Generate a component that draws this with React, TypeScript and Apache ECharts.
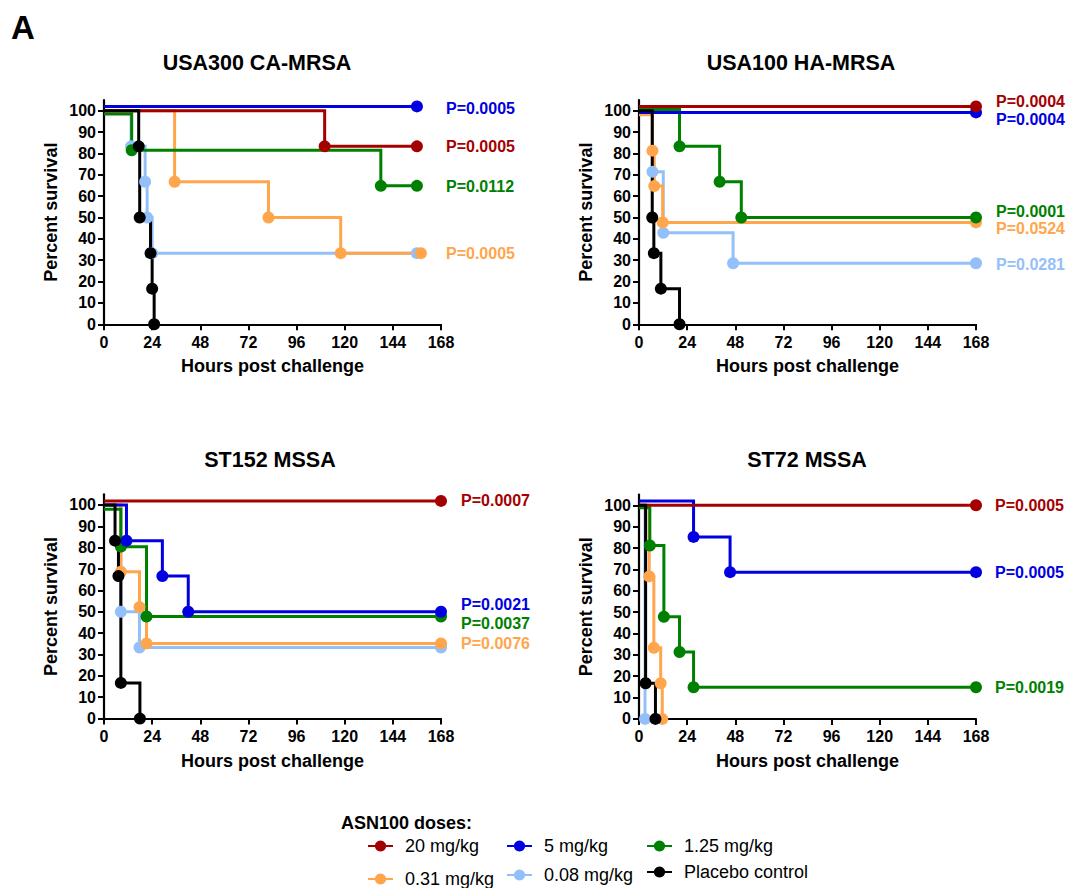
import React, { useEffect, useRef } from "react";
import * as echarts from "echarts";

const FONT = "'Liberation Sans', Arial, Helvetica, sans-serif";

// ---------- labels & ticks ----------
const PANEL_TITLES = ["USA300 CA-MRSA", "USA100 HA-MRSA", "ST152 MSSA", "ST72 MSSA"];
const DOSES = ["20 mg/kg", "5 mg/kg", "1.25 mg/kg", "0.31 mg/kg", "0.08 mg/kg", "Placebo control"];
const DOSE_COLORS = ["#a50000", "#0000e0", "#008000", "#ffa64d", "#94c0fa", "#000000"];
const X_TICKS = [0, 24, 48, 72, 96, 120, 144, 168];
const Y_TICKS = [0, 10, 20, 30, 40, 50, 60, 70, 80, 90, 100];
const X_TITLE = "Hours post challenge";
const Y_TITLE = "Percent survival";
const LEGEND_TITLE = "ASN100 doses:";
const PANEL_LETTER = "A";

// ---------- survival data: [hours, percent survival] at each event ----------
// USA300 CA-MRSA
const usa300_20 = [[0, 100], [110, 83.3], [156, 83.3]];
const usa300_5 = [[0, 102], [156, 102]];
const usa300_125 = [[0, 98.4], [13.8, 81.5], [138, 64.8], [156, 64.8]];
const usa300_031 = [[0, 100], [35.2, 66.7], [82, 50], [118, 33.3], [158, 33.3]];
const usa300_008 = [[0, 100], [13.5, 83.3], [20.5, 66.7], [21.5, 50], [24, 33.3], [156, 33.3]];
const usa300_plc = [[0, 100], [17.3, 83.3], [17.8, 50], [23.2, 33.3], [24, 16.7], [25, 0]];
const usa300_p = ["P=0.0005", "P=0.0005", "P=0.0112", "P=0.0005", "", ""];

// USA100 HA-MRSA
const usa100_20 = [[0, 102], [168, 102]];
const usa100_5 = [[0, 99.2], [168, 99.2]];
const usa100_125 = [[0, 100.5], [20.2, 83.3], [40.2, 66.7], [51, 50], [168, 50]];
const usa100_031 = [[0, 98.1], [6.7, 81.3], [7.6, 64.7], [11.8, 47.7], [168, 47.7]];
const usa100_008 = [[0, 100], [6.7, 71.4], [12.1, 42.8], [46.9, 28.6], [168, 28.6]];
const usa100_plc = [[0, 100], [6.6, 50], [7.4, 33.3], [10.9, 16.7], [20.2, 0]];
const usa100_p = ["P=0.0004", "P=0.0004", "P=0.0001", "P=0.0524", "P=0.0281", ""];

// ST152 MSSA
const st152_20 = [[0, 101.9], [168, 101.9]];
const st152_5 = [[0, 100], [11.2, 83.3], [29.1, 66.7], [42, 50], [168, 50]];
const st152_125 = [[0, 98], [8.4, 80.5], [21.2, 47.8], [168, 47.8]];
const st152_031 = [[0, 100], [8.4, 68.8], [17.7, 52.2], [21.2, 35.2], [168, 35.2]];
const st152_008 = [[0, 100], [8.4, 50], [17.7, 33.3], [168, 33.3]];
const st152_plc = [[0, 100], [5.5, 83.3], [7.2, 66.7], [8.4, 16.7], [17.9, 0]];
const st152_p = ["P=0.0007", "P=0.0021", "P=0.0037", "P=0.0076", "", ""];

// ST72 MSSA
const st72_20 = [[0, 100], [168, 100]];
const st72_5 = [[0, 102], [27.2, 85.2], [45.4, 68.7], [168, 68.7]];
const st72_125 = [[0, 98.8], [5.4, 81.2], [12.4, 47.8], [20.2, 31.3], [27.2, 14.8], [168, 14.8]];
const st72_031 = [[0, 100], [5.1, 66.7], [7.4, 33.3], [10.8, 16.7], [11.6, 0]];
const st72_008 = [[0, 100], [3.0, 0]];
const st72_plc = [[0, 100], [3.3, 16.7], [8.2, 0]];
const st72_p = ["P=0.0005", "P=0.0005", "P=0.0019", "", "", ""];

const PANEL_SERIES = [
  [usa300_20, usa300_5, usa300_125, usa300_031, usa300_008, usa300_plc],
  [usa100_20, usa100_5, usa100_125, usa100_031, usa100_008, usa100_plc],
  [st152_20, st152_5, st152_125, st152_031, st152_008, st152_plc],
  [st72_20, st72_5, st72_125, st72_031, st72_008, st72_plc],
];
const PANEL_P = [usa300_p, usa100_p, st152_p, st72_p];

// ---------- layout (styling only) ----------
const X_MAX = 168;
const Y_MAX = 105;
const PLOT_W = 337;
const PLOT_H = 224.3;
const GRIDS = [
  { left: 104, top: 100 },
  { left: 639, top: 100 },
  { left: 104, top: 494.3 },
  { left: 639, top: 494.6 },
];
const TITLE_POS = [
  [257, 63],
  [801, 63],
  [270, 460],
  [807, 460],
];
// x position (in hours) where the P labels start, and vertical nudges
const LABEL_HOUR = [170.5, 178, 178, 177.5];
const LABEL_DY = [
  [0, 2, 1, 0, 0, 0],
  [-5, 7, -6, 6, 1, 0],
  [0, -7, 7.5, 0, 0, 0],
  [0, 0, 0, 0, 0, 0],
];
const DRAW_ORDER = [4, 3, 2, 1, 0, 5];

function buildOption() {
  const grid: any[] = [];
  const xAxis: any[] = [];
  const yAxis: any[] = [];
  const series: any[] = [];
  const graphic: any[] = [];

  const axisLine = { show: true, onZero: false, lineStyle: { color: "#000", width: 2.2 } };
  const axisTick = { show: true, length: 6, lineStyle: { color: "#000", width: 2 } };
  const tickLabel = { color: "#000", fontSize: 16, fontWeight: "bold", fontFamily: FONT };
  const nameStyle = { color: "#000", fontSize: 18, fontWeight: "bold", fontFamily: FONT };

  PANEL_SERIES.forEach((panel, i) => {
    grid.push({ left: GRIDS[i].left, top: GRIDS[i].top, width: PLOT_W, height: PLOT_H, containLabel: false });
    xAxis.push({
      gridIndex: i,
      type: "value",
      min: 0,
      max: X_MAX,
      interval: 24,
      axisLine,
      axisTick: { ...axisTick, customValues: X_TICKS },
      axisLabel: { ...tickLabel, margin: 10, customValues: X_TICKS },
      splitLine: { show: false },
      name: X_TITLE,
      nameLocation: "middle",
      nameGap: 33,
      nameTextStyle: nameStyle,
    });
    yAxis.push({
      gridIndex: i,
      type: "value",
      min: 0,
      max: Y_MAX,
      axisLine,
      axisTick: { ...axisTick, customValues: Y_TICKS },
      axisLabel: { ...tickLabel, margin: 8, customValues: Y_TICKS },
      splitLine: { show: false },
      name: Y_TITLE,
      nameLocation: "middle",
      nameGap: 44,
      nameRotate: 90,
      nameTextStyle: nameStyle,
    });
    const pxPerHour = PLOT_W / X_MAX;
    DRAW_ORDER.forEach((k) => {
      const pts = panel[k];
      const color = DOSE_COLORS[k];
      const p = PANEL_P[i][k];
      const endHour = pts[pts.length - 1][0];
      const s: any = {
        type: "line",
        name: DOSES[k],
        xAxisIndex: i,
        yAxisIndex: i,
        step: "end",
        clip: false,
        data: pts.map((pt, j) => (j === 0 ? { value: pt, symbol: "none" } : pt)),
        symbol: "circle",
        symbolSize: 12,
        showSymbol: true,
        showAllSymbol: true,
        lineStyle: { color, width: 3, join: "miter" },
        itemStyle: { color },
        emphasis: { disabled: true },
      };
      if (p) {
        s.endLabel = {
          show: true,
          formatter: p,
          color,
          fontSize: 16,
          fontWeight: "bold",
          fontFamily: FONT,
          distance: (LABEL_HOUR[i] - endHour) * pxPerHour,
          offset: [0, LABEL_DY[i][k]],
        };
      }
      series.push(s);
    });
    graphic.push({
      type: "text",
      x: TITLE_POS[i][0],
      y: TITLE_POS[i][1],
      style: {
        text: PANEL_TITLES[i],
        font: `bold 21.5px ${FONT}`,
        fill: "#000",
        textAlign: "center",
        textVerticalAlign: "middle",
      },
    });
  });

  graphic.push({
    type: "text",
    x: 11,
    y: 27,
    style: { text: PANEL_LETTER, font: `bold 33px ${FONT}`, fill: "#000", textAlign: "left", textVerticalAlign: "middle" },
  });
  graphic.push({
    type: "text",
    x: 341,
    y: 823,
    style: { text: LEGEND_TITLE, font: `bold 18px ${FONT}`, fill: "#000", textAlign: "left", textVerticalAlign: "middle" },
  });

  const legendBase = {
    orient: "vertical",
    top: 837,
    padding: 0,
    itemWidth: 25,
    itemHeight: 14,
    selectedMode: false,
    textStyle: { color: "#000", fontSize: 18, fontFamily: FONT, padding: [0, 0, 0, 7] },
  };
  const legend = [
    { ...legendBase, left: 367, itemGap: 15, data: [DOSES[0], DOSES[3]] },
    { ...legendBase, left: 506, itemGap: 11, data: [DOSES[1], DOSES[4]] },
    { ...legendBase, left: 646, itemGap: 8, data: [DOSES[2], DOSES[5]] },
  ];

  return {
    animation: false,
    backgroundColor: "#ffffff",
    textStyle: { fontFamily: FONT },
    grid,
    xAxis,
    yAxis,
    series,
    legend,
    graphic,
  };
}

export default function App() {
  const ref = useRef<HTMLDivElement>(null);
  useEffect(() => {
    if (!ref.current) return;
    const chart = echarts.init(ref.current, undefined, { renderer: "svg" });
    chart.setOption(buildOption() as any);
    return () => chart.dispose();
  }, []);
  return (
    <div
      ref={ref}
      style={{ position: "fixed", left: 0, top: 0, width: 1069, height: 888, background: "#fff" }}
    />
  );
}
